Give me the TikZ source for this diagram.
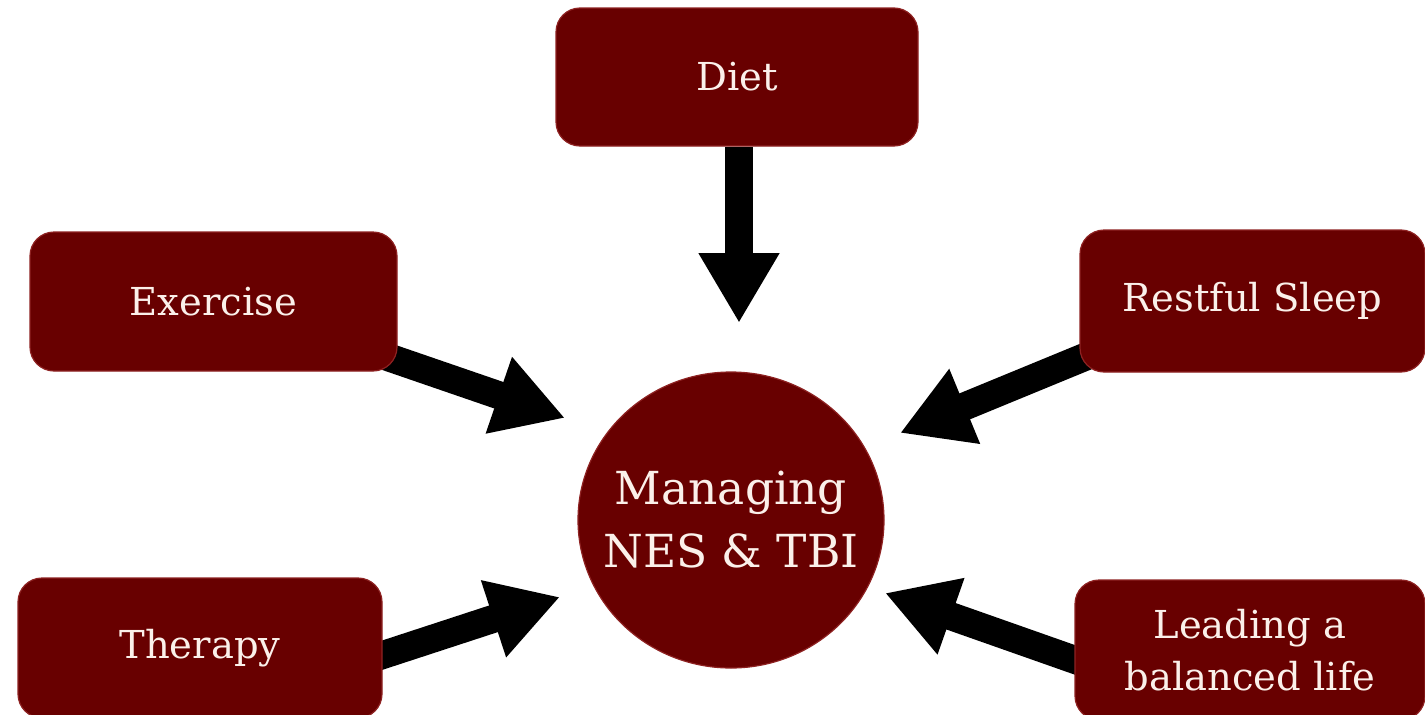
\documentclass[tikz,border=0pt]{standalone}
\usepackage{fontspec}
\setmainfont{DejaVu Serif}
\usetikzlibrary{arrows.meta,shapes.geometric,calc,backgrounds}
\definecolor{boxred}{HTML}{680000}
\definecolor{boxedge}{HTML}{8E2222}
\definecolor{txt}{HTML}{FBF0EA}
\begin{document}
\begin{tikzpicture}[x=1pt,y=-1pt,
  box/.style={draw=boxedge,line width=1.2pt,fill=boxred,rounded corners=24pt,
    text=txt,font=\fontsize{38.5}{52}\selectfont,align=center,inner sep=0pt},
  hub/.style={ellipse,draw=boxedge,line width=1.2pt,fill=boxred,inner sep=0pt},
  hubtext/.style={text=txt,font=\fontsize{45.5}{63}\selectfont,align=center,inner sep=0pt},
  fat/.style={line width=28pt,-{Triangle[length=70pt,width=76pt]}}]
\clip (0,0) rectangle (1425,715);
\node[box,minimum width=362pt,minimum height=138pt] (diet) at (737,77) {Diet};
\node[box,minimum width=367pt,minimum height=139pt] (exercise) at (213.5,301.5) {Exercise};
\node[box,minimum width=345pt,minimum height=142pt] (sleep) at (1252.5,301) {Restful Sleep};
\node[box,minimum width=364pt,minimum height=140pt] (therapy) at (200,648) {Therapy};
\node[box,minimum width=350pt,minimum height=140pt] (life) at (1250,650) {Leading a\\balanced life};
\node[hub,minimum width=306pt,minimum height=296pt] (hub) at (731,520) {};
\node[hubtext] (hubt) at (731,520) {Managing\\NES \& TBI};
\coordinate (tDiet) at (739,323);
\coordinate (sEx) at ($(exercise.south east)+(-17,-17)$);
\coordinate (tEx) at (565,418);
\coordinate (sSl) at ($(sleep.west)+(15,52)$);
\coordinate (tSl) at (900,433);
\coordinate (sTh) at ($(therapy.east)+(-12,11)$);
\coordinate (tTh) at (560,597);
\coordinate (sLi) at ($(life.west)+(15,15)$);
\coordinate (tLi) at (885,593);
\begin{scope}[on background layer]
\fill[white] (0,0) rectangle (1425,715);
\draw[fat] (diet.south -| tDiet) -- (tDiet);
\draw[fat] (sEx) -- (tEx);
\draw[fat] (sSl) -- (tSl);
\draw[fat] (sTh) -- (tTh);
\draw[fat] (sLi) -- (tLi);
\end{scope}
\end{tikzpicture}
\end{document}
